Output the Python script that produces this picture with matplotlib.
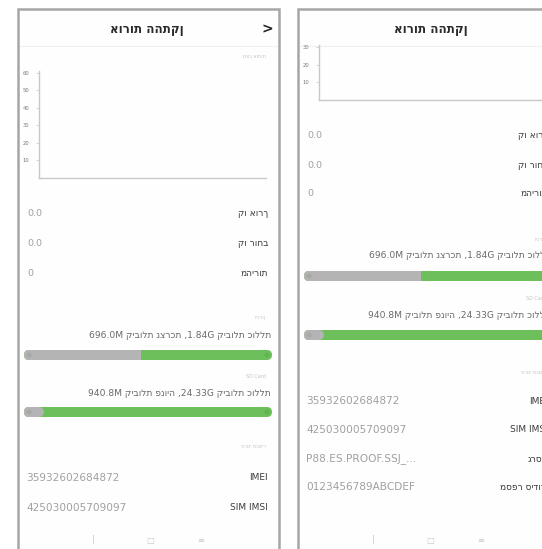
from matplotlib import pyplot as plt
from matplotlib.patches import FancyBboxPatch, Rectangle, Circle

plt.rcParams['font.family'] = ['DejaVu Sans']

# ---- data ----
title = "אורות ההתקן"
chart_caption = "מצב אותות"
ticks_left = [10, 20, 30, 40, 50, 60]
ticks_right = [10, 20, 30]
info_labels = ["קו אורך", "קו רוחב", "מהירות"]
info_values = ["0.0", "0.0", "0"]
storage_labels = ["זיכרון", "SD Card"]
storage_texts = ["קיבולת כוללת 1.84G, קיבולת נצרכת 696.0M",
                 "קיבולת כוללת 24.33G, קיבולת פנויה 940.8M"]
storage_gray = [0.47, 0.08]   # part of each bar drawn grey
device_caption = "פרטי מכשיר"
device_labels = ["IMEI", "SIM IMSI", "גרסה", "מספר סידורי"]
device_values = ["35932602684872", "425030005709097", "P88.ES.PROOF.SSJ_...", "0123456789ABCDEF"]
nav_icons = ["|", "□", "≡"]

W, H = 542, 549
LABEL = '#3c3c3c'
VALUE = '#a0a0a0'
FAINT = '#c4c4c4'
GREEN = '#6cbf5a'
GREY = '#b4b4b4'


def is_heb(w):
    return any('\u0590' <= c <= '\u05ff' for c in w)


def rtl_line(s):
    # the renderer lays lines out left-to-right, so put the runs of a
    # right-to-left sentence in visual order (runs themselves stay logical)
    groups = []
    for w in s.split(' '):
        h = is_heb(w)
        if not h and w.endswith(','):
            w = ',' + w[:-1]
        if groups and groups[-1][0] == h:
            groups[-1][1].append(w)
        else:
            groups.append((h, [w]))
    return ' '.join(' '.join(g[1]) for g in reversed(groups))


def draw_bar(ax, x, y, w, gray):
    h = 10
    ax.add_patch(FancyBboxPatch((x, y - h / 2), w, h, boxstyle="round,pad=0,rounding_size=5",
                                fc=GREEN, ec='none', zorder=2))
    ax.add_patch(FancyBboxPatch((x, y - h / 2), w * gray, h, boxstyle="round,pad=0,rounding_size=5",
                                fc=GREY, ec='none', zorder=3))
    if gray > 0.2:
        ax.add_patch(Rectangle((x + w * gray - 5, y - h / 2), 5, h, fc=GREY, ec='none', zorder=3))
    ax.add_patch(Circle((x + 5, y), 2.5, fc='#a8a8a8', ec='none', zorder=4))
    ax.add_patch(Circle((x + w - 5, y), 2.5, fc='#62b351', ec='none', zorder=4))


def draw_screen(fig, ax, s):
    x0 = s['x0']
    ax.add_patch(Rectangle((x0, 9), s['width'], 600, fc='#fefefe', ec='#a6a6a6', lw=1.8, zorder=1))
    # header
    ax.text(x0 + s['title_dx'], 30, title, ha='center', va='center', fontsize=8.5,
            weight='bold', color='#2a2a2a', zorder=4)
    if s['chevron']:
        ax.text(x0 + 249, 29, '>', ha='center', va='center', fontsize=10, weight='bold',
                color='#222222', zorder=4)
    ax.plot([x0 + 2, x0 + 259], [46, 46], color='#f0f0f0', lw=0.8, zorder=2)
    if s['caption_y']:
        ax.text(x0 + 248, s['caption_y'], rtl_line(chart_caption), ha='right', va='center',
                fontsize=3.5, color=FAINT, zorder=4)

    # small signal chart
    cl, cr, ct, cb = s['chart']
    cax = fig.add_axes([cl / W, 1 - cb / H, (cr - cl) / W, (cb - ct) / H])
    cax.set_facecolor('none')
    cax.set_xlim(0, 1)
    cax.set_ylim(0, s['ymax'])
    cax.set_yticks(s['ticks'])
    cax.set_yticklabels([str(t) for t in s['ticks']], fontsize=3.8, color='#7a7a7a')
    cax.tick_params(axis='y', length=2, width=0.5, color=FAINT, pad=5)
    cax.set_xticks([])
    for side in ['top', 'right']:
        cax.spines[side].set_visible(False)
    for side in ['left', 'bottom']:
        cax.spines[side].set_color('#c8c8c8')
        cax.spines[side].set_linewidth(1.0)

    # location rows
    for lab, val, y in zip(info_labels, info_values, s['info_y']):
        ax.text(x0 + 250, y, rtl_line(lab), ha='right', va='center', fontsize=6.5, color=LABEL, zorder=4)
        ax.text(x0 + 9, y, val, ha='left', va='center', fontsize=6.8, color=VALUE, zorder=4)

    # storage
    for lab, txt, gray, (ly, ty, by) in zip(storage_labels, storage_texts, storage_gray, s['storage_y']):
        ax.text(x0 + 248, ly, rtl_line(lab), ha='right', va='center', fontsize=3.5, color=FAINT, zorder=4)
        ax.text(x0 + 253, ty, rtl_line(txt), ha='right', va='center', fontsize=6.6, color='#6a6a6a', zorder=4)
        draw_bar(ax, x0 + 6, by, 248, gray)

    # device info
    ax.text(x0 + 248, s['dev_caption_y'], rtl_line(device_caption), ha='right', va='center',
            fontsize=3.5, color=FAINT, zorder=4)
    n = len(s['dev_y'])
    for lab, val, y in zip(device_labels[:n], device_values[:n], s['dev_y']):
        ax.text(x0 + 250, y, rtl_line(lab), ha='right', va='center', fontsize=6.5, color=LABEL, zorder=4)
        ax.text(x0 + 8, y, val, ha='left', va='center', fontsize=7.6, color=VALUE, zorder=4)

    # navigation bar
    for icon, dx in zip(nav_icons, [75, 132, 183]):
        ax.text(x0 + dx, 540, icon, ha='center', va='center', fontsize=6, color='#c8c8c8', zorder=4)


screens = [
    dict(x0=18, width=261, title_dx=129, chevron=True, caption_y=57, chart=(39, 266, 71, 178), ymax=61,
         ticks=ticks_left, info_y=[214, 243, 273],
         storage_y=[(318, 336, 355), (377, 394, 412)], dev_caption_y=447, dev_y=[478, 508]),
    dict(x0=298, width=400, title_dx=133, chevron=False, caption_y=None, chart=(319, 560, 45, 100), ymax=31,
         ticks=ticks_right, info_y=[136, 165, 193],
         storage_y=[(240, 256, 276), (298, 315, 335)], dev_caption_y=372, dev_y=[401, 430, 459, 487]),
]

fig = plt.figure(figsize=(W / 100, H / 100), dpi=100)
ax = fig.add_axes([0, 0, 1, 1])
ax.set_xlim(0, W)
ax.set_ylim(H, 0)
ax.axis('off')

for s in screens:
    draw_screen(fig, ax, s)

plt.savefig('out.png', dpi=100, facecolor='white')
